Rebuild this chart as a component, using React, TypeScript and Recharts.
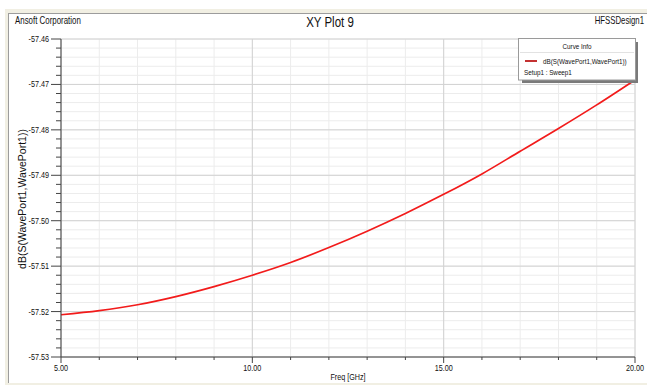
import { CartesianGrid, Line, LineChart, XAxis, YAxis } from 'recharts';

// sweep, 1 GHz steps
const freqGHz = [5, 6, 7, 8, 9, 10, 11, 12, 13, 14, 15, 16, 17, 18, 19, 20];
const dbS11 = [
  -57.5207, -57.5198, -57.5185, -57.5167, -57.5145, -57.512, -57.5092, -57.5059,
  -57.5023, -57.4984, -57.4942, -57.4897, -57.4847, -57.4797, -57.4745, -57.469,
];

const xTicks = [5, 6, 7, 8, 9, 10, 11, 12, 13, 14, 15, 16, 17, 18, 19, 20];
const xMajor = [5, 10, 15, 20];
const yTicks = [
  -57.53, -57.528, -57.526, -57.524, -57.522,
  -57.52, -57.518, -57.516, -57.514, -57.512,
  -57.51, -57.508, -57.506, -57.504, -57.502,
  -57.5, -57.498, -57.496, -57.494, -57.492,
  -57.49, -57.488, -57.486, -57.484, -57.482,
  -57.48, -57.478, -57.476, -57.474, -57.472,
  -57.47, -57.468, -57.466, -57.464, -57.462,
  -57.46,
];
const yMajor = [-57.53, -57.52, -57.51, -57.5, -57.49, -57.48, -57.47, -57.46];

const seriesName = 'dB(S(WavePort1,WavePort1))';
const setupName = 'Setup1 : Sweep1';

const data = freqGHz.map((f, i) => ({ freq: f, db: dbS11[i] }));

const font = "'Liberation Sans', Arial, sans-serif";

// the screenshot is squeezed sideways, so text is narrowed the same way
const Squeezed = ({ x, y, size, anchor = 'start', k = 0.8, children }: any) => (
  <text
    transform={`translate(${x} ${y}) scale(${k} 1)`}
    fontSize={size}
    fontFamily={font}
    textAnchor={anchor}
    fill="#111"
  >
    {children}
  </text>
);

const YTick = (props: any) => {
  const { x, y, payload } = props;
  const major = yMajor.includes(payload.value);
  return (
    <g>
      <line x1={major ? x + 2 : x + 7} x2={x + 12} y1={y} y2={y} stroke="#444" />
      {major && (
        <Squeezed x={x} y={y + 3} size={8.5} anchor="end" k={0.85}>
          {payload.value.toFixed(2)}
        </Squeezed>
      )}
    </g>
  );
};

const XTick = (props: any) => {
  const { x, y, payload } = props;
  const major = xMajor.includes(payload.value);
  return (
    <g>
      <line x1={x} x2={x} y1={y - 6} y2={y - (major ? 0 : 3)} stroke="#444" />
      {major && (
        <Squeezed x={x} y={y + 8} size={8.5} anchor="middle" k={0.85}>
          {payload.value.toFixed(2)}
        </Squeezed>
      )}
    </g>
  );
};

export default function App() {
  return (
    <div style={{ position: 'absolute', left: 0, top: 0, width: 647, height: 385, background: '#fff', overflow: 'hidden' }}>
      <div style={{ position: 'absolute', left: 5, top: 9, width: 642, height: 376, background: '#f1efe3' }} />
      <div
        style={{
          position: 'absolute',
          left: 8,
          top: 13,
          width: 650,
          height: 369,
          background: '#fff',
          borderLeft: '1px solid #9c9c9c',
          borderTop: '1px solid #9c9c9c',
        }}
      />
      <div style={{ position: 'absolute', left: 0, top: 0 }}>
        <LineChart width={647} height={385} data={data} margin={{ top: 39, right: 12, bottom: 0, left: 0 }}>
          <CartesianGrid stroke="#ececec" horizontalValues={yTicks} verticalValues={xTicks} fill="none" />
          <CartesianGrid stroke="#d2d2d2" horizontalValues={yMajor} verticalValues={xMajor} fill="none" />
          <XAxis
            dataKey="freq"
            type="number"
            domain={[5, 20]}
            ticks={xTicks}
            interval={0}
            height={28}
            tickSize={6}
            tickMargin={0}
            tickLine={false}
            axisLine={{ stroke: '#444' }}
            tick={<XTick />}
          />
          <XAxis
            xAxisId="top"
            orientation="top"
            type="number"
            domain={[5, 20]}
            height={0}
            tick={false}
            tickLine={false}
            axisLine={{ stroke: '#666' }}
          />
          <YAxis
            type="number"
            domain={[-57.53, -57.46]}
            ticks={yTicks}
            interval={0}
            width={61}
            tickSize={10}
            tickMargin={2}
            tickLine={false}
            axisLine={{ stroke: '#444' }}
            tick={<YTick />}
          />
          <YAxis
            yAxisId="right"
            orientation="right"
            type="number"
            domain={[-57.53, -57.46]}
            width={0}
            tick={false}
            tickLine={false}
            axisLine={{ stroke: '#777' }}
          />
          <Line
            type="monotone"
            dataKey="db"
            name={seriesName}
            stroke="#f21b1b"
            strokeWidth={1.7}
            dot={false}
            isAnimationActive={false}
          />
        </LineChart>
      </div>
      <svg width={647} height={385} style={{ position: 'absolute', left: 0, top: 0, pointerEvents: 'none' }}>
        <Squeezed x={15} y={23.5} size={10} k={0.79}>Ansoft Corporation</Squeezed>
        <Squeezed x={330} y={27} size={14} anchor="middle" k={0.82}>XY Plot 9</Squeezed>
        <Squeezed x={644} y={23.5} size={10} anchor="end" k={0.78}>HFSSDesign1</Squeezed>
        <Squeezed x={348} y={380} size={9} anchor="middle" k={0.8}>Freq [GHz]</Squeezed>
        <text
          transform="translate(26 199) rotate(-90)"
          fontSize={10.5}
          fontFamily={font}
          textAnchor="middle"
          fill="#111"
        >
          {seriesName}
        </text>
        {/* Curve Info box */}
        <rect x={522} y={42} width={116} height={41} fill="#7a7a7a" />
        <rect x={518.5} y={38.5} width={117} height={41.5} fill="#fff" stroke="#9a9a9a" />
        <line x1={520} x2={634} y1={52.5} y2={52.5} stroke="#e2e2e2" />
        <Squeezed x={577} y={49} size={7} anchor="middle" k={0.9}>Curve Info</Squeezed>
        <line x1={525} x2={537} y1={61} y2={61} stroke="#c43232" strokeWidth={2} />
        <Squeezed x={543} y={63.5} size={7} k={0.9}>{seriesName}</Squeezed>
        <Squeezed x={524} y={75} size={7} k={0.9}>{setupName}</Squeezed>
      </svg>
    </div>
  );
}
